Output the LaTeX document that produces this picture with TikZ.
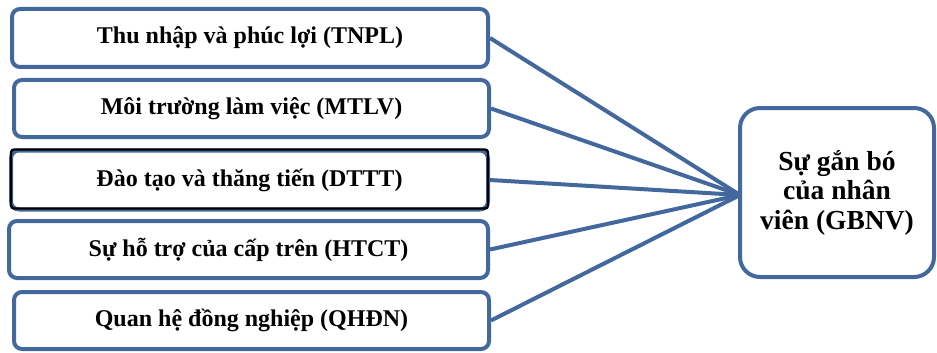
\documentclass[tikz,border=0pt]{standalone}
\usepackage{fontspec}
\setmainfont{Liberation Serif}
\definecolor{frameblue}{RGB}{66,104,158}
\tikzset{
  factor/.style={draw=frameblue, line width=4pt, rounded corners=8pt, fill=white,
    minimum width=476pt, minimum height=58pt, inner sep=0pt,
    font=\fontsize{24}{28}\selectfont\bfseries},
  outcome/.style={draw=frameblue, line width=4pt, rounded corners=20pt, fill=white,
    minimum width=194pt, minimum height=169pt, inner sep=0pt, align=center,
    font=\fontsize{27.5}{29.5}\selectfont\bfseries},
  link/.style={draw=frameblue, line width=4pt}
}
\begin{document}
\begin{tikzpicture}[x=1pt, y=-1pt]
  \useasboundingbox (0,0) rectangle (937,353);
  % factor boxes
  \node[factor] (tnpl) at (250,38) {Thu nhập và phúc lợi (TNPL)};
  \node[factor, minimum width=475pt, minimum height=57pt] (mtlv) at (251.5,108.5) {Môi trường làm việc (MTLV)};
  \node[factor, minimum width=477pt, minimum height=59pt] (dttt) at (249.5,180) {Đào tạo và thăng tiến (DTTT)};
  % black frame laid over the third box
  \draw[black, line width=2.4pt, rounded corners=3pt]
    ([shift={(2pt,3pt)}]dttt.south west) rectangle ([shift={(-2pt,-1pt)}]dttt.north east);
  \node[factor, minimum width=479pt, minimum height=57pt] (htct) at (248.5,249.5) {Sự hỗ trợ của cấp trên (HTCT)};
  \node[factor, minimum width=475pt, minimum height=57pt] (qhdn) at (251.5,320.5) {Quan hệ đồng nghiệp (QHĐN)};
  % outcome box
  \node[outcome] (gbnv) at (837,192.5) {Sự gắn bó\\của nhân\\viên (GBNV)};
  \coordinate (hub) at (740,195);
  % connectors
  \foreach \src in {tnpl,mtlv,dttt,htct,qhdn}
    \draw[link] (\src.east) -- (hub);
\end{tikzpicture}
\end{document}
